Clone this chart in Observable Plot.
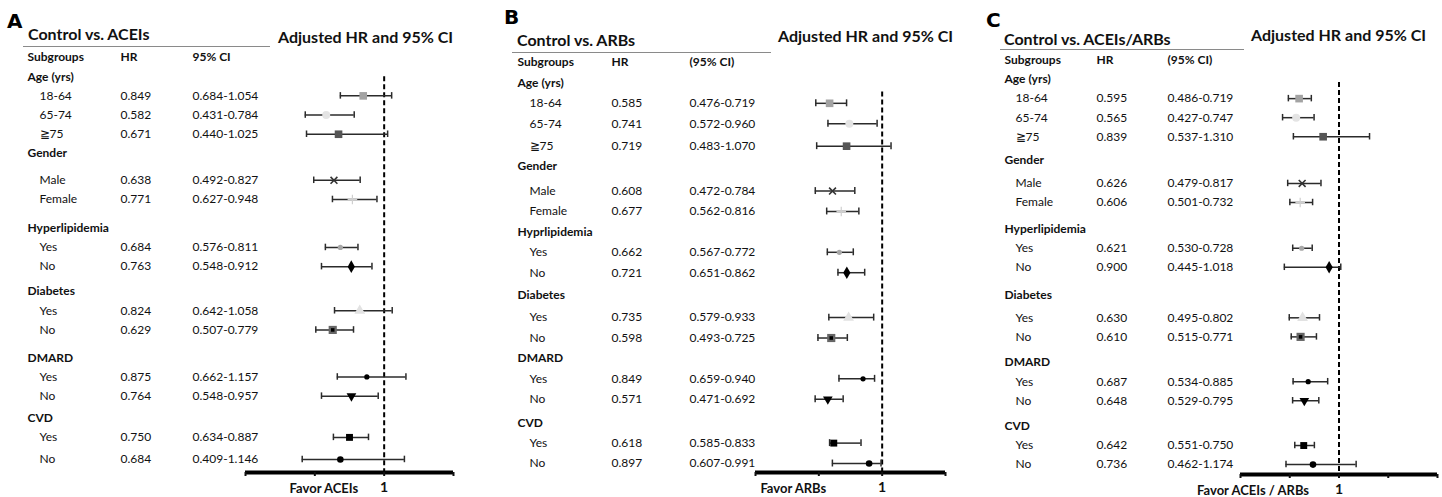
<!DOCTYPE html>
<html><head><meta charset="utf-8">
<script src="https://cdn.jsdelivr.net/npm/d3@7"></script>
<script src="https://cdn.jsdelivr.net/npm/@observablehq/plot@0.6"></script>
<style>
body{margin:0;background:#fff;}
#root{position:relative;width:1442px;height:497px;overflow:hidden;font-family:Lato, sans-serif;color:#111}
#root svg{position:absolute;top:0}
.abs{position:absolute;line-height:1;white-space:nowrap}
.letter{font-family:"DejaVu Sans";font-weight:bold;font-size:20px;color:#000}
.ttl{font-weight:bold;font-size:16px}
.adj{font-weight:bold;font-size:16px}
.rule{position:absolute;height:1px;background:#8a8a8a}
g[aria-label="x-axis tick label"] text{font-weight:bold;font-size:14px}
</style></head><body><div id="root"></div>
<script>
// ---- data ----
const subgroups = [["18-64","65-74","\u226775"],["Male","Female"],["Yes","No"],["Yes","No"],["Yes","No"],["Yes","No"]];
const groupsA = ["Age (yrs)","Gender","Hyperlipidemia","Diabetes","DMARD","CVD"];
const groupsB = ["Age (yrs)","Gender","Hyprlipidemia","Diabetes","DMARD","CVD"];
const groupsC = ["Age (yrs)","Gender","Hyperlipidemia","Diabetes","DMARD","CVD"];

const hrA = [0.849,0.582,0.671,0.638,0.771,0.684,0.763,0.824,0.629,0.875,0.764,0.750,0.684];
const loA = [0.684,0.431,0.440,0.492,0.627,0.576,0.548,0.642,0.507,0.662,0.548,0.634,0.409];
const hiA = [1.054,0.784,1.025,0.827,0.948,0.811,0.912,1.058,0.779,1.157,0.957,0.887,1.146];

const hrB = [0.585,0.741,0.719,0.608,0.677,0.662,0.721,0.735,0.598,0.849,0.571,0.618,0.897];
const loB = [0.476,0.572,0.483,0.472,0.562,0.567,0.651,0.579,0.493,0.659,0.471,0.585,0.607];
const hiB = [0.719,0.960,1.070,0.784,0.816,0.772,0.862,0.933,0.725,0.940,0.692,0.833,0.991];

const hrC = [0.595,0.565,0.839,0.626,0.606,0.621,0.900,0.630,0.610,0.687,0.648,0.642,0.736];
const loC = [0.486,0.427,0.537,0.479,0.501,0.530,0.445,0.495,0.515,0.534,0.529,0.551,0.462];
const hiC = [0.719,0.747,1.310,0.817,0.732,0.728,1.018,0.802,0.771,0.885,0.795,0.750,1.174];

const titles = ["Control vs. ACEIs","Control vs. ARBs","Control vs. ACEIs/ARBs"];
const ciHeaders = ["95% CI","(95% CI)","(95% CI)"];
const favorLabels = ["Favor ACEIs","Favor ARBs","Favor ACEIs / ARBs"];
const letters = ["A","B","C"];
const ticksAB = [0,0.5,1,1.5];
const ticksC = [0,0.5,1,1.5,2];

// ---- styles / layout ----
const invTriangle = {draw(ctx, size){const y=-Math.sqrt(size/(Math.sqrt(3)*3)); const s=Math.sqrt(3);
  ctx.moveTo(0,-y*2); ctx.lineTo(-s*y,y); ctx.lineTo(s*y,y); ctx.closePath();}};
const markerStyles = [
 {symbol:"square", r:4.3, fill:"#a3a3a3"},
 {symbol:"circle", r:4, fill:"#e4e4e4"},
 {symbol:"square", r:4.3, fill:"#555"},
 {symbol:"times", r:3.2, stroke:"#333", strokeWidth:1.6},
 {symbol:"plus", r:3.2, stroke:"#cfcfcf", strokeWidth:1.2},
 {symbol:"circle", r:2.6, fill:"#a8a8a8"},
 {symbol:"diamond", r:3.8, fill:"#000"},
 {symbol:"triangle", r:4, fill:"#e2e2e2"},
 {symbol:"square", r:4.6, fill:"#666", inner:true},
 {symbol:"circle", r:2.6, fill:"#000"},
 {symbol:invTriangle, r:3.6, fill:"#000"},
 {symbol:"square", r:3.9, fill:"#000"},
 {symbol:"circle", r:3.3, fill:"#000"}
];

const panels = [
 {groups:groupsA, hr:hrA, lo:loA, hi:hiA, xMax:1.5, ticks:ticksAB,
  L:{left:0, width:480, mL:245, mR:27, mT:57, mB:25, gaps:{6:.4,8:.5,11:.3,14:.45,17:.15,19:.15}, tail:.68,
     gx:-218, sx:-206, hx:-125, cx:-53, dashStart:1, fdx:-26,
     letter:[7,11], title:[28,25.6], rule:[23,247,46], adj:[278,29]}},
 {groups:groupsB, hr:hrB, lo:loB, hi:hiB, xMax:1.5, ticks:ticksAB,
  L:{left:480, width:480, mL:275, mR:15, mT:62, mB:25, gaps:{4:.1,6:.2,11:.1,12:.1,17:.15}, tail:.44,
     gx:-238, sx:-226, hx:-144, cx:-66, dashStart:1.45, fdx:-56,
     letter:[504,7], title:[517,31.6], rule:[512,259,52], adj:[778,27.6]}},
 {groups:groupsC, hr:hrC, lo:loC, hi:hiC, xMax:2, ticks:ticksC,
  L:{left:960, width:482, mL:280, mR:5, mT:60, mB:23, gaps:{5:.25,6:.2,8:.4,11:.45,12:.2,14:.35,17:.35}, tail:.52,
     gx:-236, sx:-225, hx:-144, cx:-73, dashStart:1.15, fdx:-30,
     letter:[986,10], title:[1004,30.6], rule:[1000,244,49], adj:[1251,27]}}
];

const fmt = d3.format(".3f");
const root = document.getElementById("root");

function addDiv(cls, text, x, y){
  const d = document.createElement("div"); d.className = "abs " + cls; d.textContent = text;
  d.style.left = x + "px"; d.style.top = y + "px"; root.appendChild(d); return d;
}

panels.forEach((p, pi) => {
  const L = p.L;
  const rows = []; let idx = 0, extra = 0;
  const push = r => { extra += (L.gaps[idx] || 0); r.pos = idx + extra; rows.push(r); idx++; };
  push({kind:"header"});
  let k = 0;
  p.groups.forEach((g, gi) => {
    push({kind:"group", label:g});
    subgroups[gi].forEach(s => { push({kind:"sub", label:s, hr:p.hr[k], lo:p.lo[k], hi:p.hi[k], k}); k++; });
  });
  const subs = rows.filter(r => r.kind === "sub");
  const grps = rows.filter(r => r.kind === "group");
  const hdr = rows.filter(r => r.kind === "header");
  const yMax = rows[rows.length-1].pos + L.tail;
  const cap = 0.17;
  const txt = (data, dx, text, extraOpts={}) => Plot.text(data, {y:"pos", text, frameAnchor:"left", dx, textAnchor:"start", fill:"#111", ...extraOpts});

  const dots = [];
  subs.forEach(r => {
    const st = markerStyles[r.k];
    const o = {x:"hr", y:"pos", symbol:st.symbol, r:st.r};
    if (st.fill) o.fill = st.fill; else o.fill = "none";
    if (st.stroke) { o.stroke = st.stroke; o.strokeWidth = st.strokeWidth; }
    dots.push(Plot.dot([r], o));
    if (st.inner) dots.push(Plot.dot([r], {x:"hr", y:"pos", symbol:"square", r:2, fill:"#000"}));
  });

  const chart = Plot.plot({
    width: L.width, height: 497,
    marginLeft: L.mL, marginRight: L.mR, marginTop: L.mT, marginBottom: L.mB,
    style: {fontFamily: "Lato, sans-serif", fontSize: "12px", background: "transparent", overflow: "visible"},
    x: {domain: [0, p.xMax]},
    y: {domain: [0, yMax], reverse: true, axis: null},
    marks: [
      Plot.ruleX([1], {y1: L.dashStart, y2: yMax, stroke: "#000", strokeWidth: 2, strokeDasharray: "5,3"}),
      Plot.ruleY(subs, {x1: "lo", x2: "hi", y: "pos", stroke: "#2b2b2b", strokeWidth: 1.5}),
      Plot.ruleX(subs, {x: "lo", y1: d => d.pos - cap, y2: d => d.pos + cap, stroke: "#2b2b2b", strokeWidth: 1.5}),
      Plot.ruleX(subs, {x: "hi", y1: d => d.pos - cap, y2: d => d.pos + cap, stroke: "#2b2b2b", strokeWidth: 1.5}),
      ...dots,
      Plot.ruleY([yMax], {stroke: "#000", strokeWidth: 4}),
      Plot.axisX({ticks: p.ticks, tickSize: 4, tickPadding: 6, strokeWidth: 2, tickFormat: d => d === 1 ? "1" : "", fontSize: 14, fontWeight: "bold", fill: "#111", label: null}),
      Plot.text([favorLabels[pi]], {x: 1, y: yMax, text: d => d, dx: L.fdx, dy: 16, textAnchor: "end", fontWeight: "bold", fontSize: 13, fill: "#111"}),
      txt(hdr, L.gx, () => "Subgroups", {fontWeight: "bold"}),
      txt(hdr, L.hx, () => "HR", {fontWeight: "bold"}),
      txt(hdr, L.cx, () => ciHeaders[pi], {fontWeight: "bold"}),
      txt(grps, L.gx, "label", {fontWeight: "bold"}),
      txt(subs, L.sx, "label"),
      txt(subs, L.hx, d => fmt(d.hr)),
      txt(subs, L.cx, d => fmt(d.lo) + "-" + fmt(d.hi))
    ]
  });
  chart.style.left = L.left + "px";
  root.appendChild(chart);

  addDiv("letter", letters[pi], L.letter[0], L.letter[1]);
  addDiv("ttl", titles[pi], L.title[0], L.title[1]);
  addDiv("adj", "Adjusted HR and 95% CI", L.adj[0], L.adj[1]);
  const ru = document.createElement("div"); ru.className = "rule";
  ru.style.left = L.rule[0] + "px"; ru.style.width = L.rule[1] + "px"; ru.style.top = L.rule[2] + "px";
  root.appendChild(ru);
});
</script></body></html>
